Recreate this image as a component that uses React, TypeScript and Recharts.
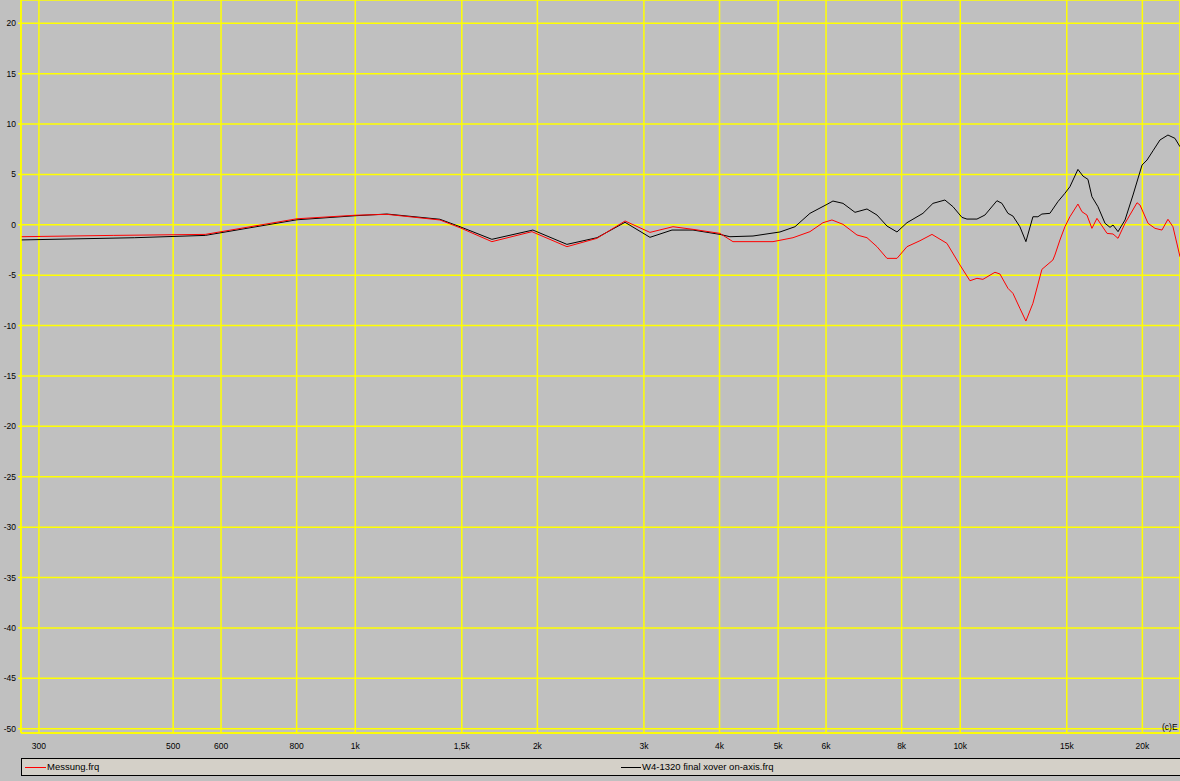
import React from "react";
import { LineChart, Line, XAxis, YAxis, CartesianGrid } from "recharts";

const xTicks = [300, 500, 600, 800, 1000, 1500, 2000, 3000, 4000, 5000, 6000, 8000, 10000, 15000, 20000];
const xTickLabels = ["300", "500", "600", "800", "1k", "1,5k", "2k", "3k", "4k", "5k", "6k", "8k", "10k", "15k", "20k"];
const yTicks = [20, 15, 10, 5, 0, -5, -10, -15, -20, -25, -30, -35, -40, -45, -50];

const messungFreq = [280.2, 398, 565, 801, 999, 1128, 1380, 1490, 1682, 1959, 2238, 2509, 2792, 3070, 3351, 3616, 4007, 4210, 4903, 5291, 5644, 5930, 6137, 6400, 6750, 7012, 7284, 7566, 7860, 8165, 8578, 8980, 9505, 9989, 10376, 10656, 10902, 11411, 11630, 11990, 12220, 12549, 12839, 13186, 13645, 14228, 14337, 14613, 14894, 15180, 15650, 15891, 16196, 16507, 16825, 17483, 17886, 18230, 18722, 19597, 19822, 20435, 20986, 21549, 22045, 22469, 23080];
const messungDb = [-1.18, -1.05, -0.95, 0.6, 0.95, 1.04, 0.48, -0.29, -1.67, -0.68, -2.17, -1.34, 0.38, -0.75, -0.19, -0.45, -0.85, -1.67, -1.67, -1.28, -0.68, 0.21, 0.48, 0.05, -1.01, -1.28, -2.17, -3.33, -3.33, -2.17, -1.58, -0.95, -1.84, -3.99, -5.55, -5.31, -5.41, -4.71, -4.88, -6.3, -6.8, -8.29, -9.55, -7.79, -4.42, -3.49, -3.0, -1.51, -0.19, 0.8, 2.06, 1.3, 0.97, -0.35, 0.64, -0.85, -0.91, -1.34, 0.15, 2.19, 1.96, 0.15, -0.35, -0.52, 0.55, -0.19, -3.17];

const w4Freq = [280.2, 432, 565, 801, 999, 1128, 1380, 1490, 1682, 1966, 2238, 2509, 2792, 3070, 3338, 3616, 4007, 4162, 4544, 5035, 5331, 5644, 6021, 6160, 6400, 6699, 7012, 7284, 7566, 7860, 8165, 8677, 9014, 9433, 9727, 10065, 10258, 10656, 10985, 11498, 11719, 11990, 12220, 12549, 12839, 13186, 13439, 13645, 14067, 14502, 14894, 15180, 15650, 15951, 16258, 16507, 16889, 17351, 17683, 17886, 18230, 18722, 19301, 19974, 20358, 20827, 21386, 22045, 22641, 23080];
const w4Db = [-1.5, -1.28, -1.05, 0.5, 0.9, 1.07, 0.55, -0.19, -1.44, -0.52, -1.94, -1.28, 0.25, -1.24, -0.52, -0.52, -0.95, -1.18, -1.11, -0.71, -0.19, 1.14, 2.03, 2.36, 2.13, 1.24, 1.57, 0.97, -0.12, -0.71, 0.21, 1.14, 2.13, 2.46, 1.8, 0.74, 0.57, 0.57, 0.97, 2.39, 2.13, 1.14, 0.87, -0.19, -1.67, 0.8, 0.8, 1.07, 1.14, 2.3, 3.13, 3.78, 5.5, 4.84, 4.51, 2.79, 1.8, 0.15, -0.25, -0.02, -0.68, 0.48, 2.96, 5.93, 6.43, 7.35, 8.42, 8.91, 8.58, 7.75];

const messungData = messungFreq.map((f, i) => ({ f, db: messungDb[i] }));
const w4Data = w4Freq.map((f, i) => ({ f, db: w4Db[i] }));

const FONT = '"Liberation Sans", Arial, sans-serif';

const XTick = (props: any) => {
  const { x, payload } = props;
  const idx = xTicks.indexOf(payload.value);
  return (
    <text x={x} y={749} textAnchor="middle" fontSize={8.5} fontFamily={FONT} fill="#000">
      {idx >= 0 ? xTickLabels[idx] : ""}
    </text>
  );
};

const YTick = (props: any) => {
  const { y, payload } = props;
  return (
    <text x={16} y={y + 3} textAnchor="end" fontSize={8.5} fontFamily={FONT} fill="#000">
      {payload.value}
    </text>
  );
};

export default function App() {
  return (
    <div style={{ position: "fixed", left: 0, top: 0, width: 1180, height: 781, background: "#c0c0c0", overflow: "hidden" }}>
      <LineChart width={1180} height={781} margin={{ top: 0, right: 0, left: 0, bottom: 0 }}>
        <CartesianGrid stroke="#ffff00" strokeWidth={1.5} fill="#c0c0c0" />
        <XAxis
          dataKey="f"
          type="number"
          scale="log"
          domain={[280.2, 23080]}
          allowDataOverflow
          ticks={xTicks}
          height={48}
          axisLine={{ stroke: "#ffff00", strokeWidth: 1.5 }}
          tickLine={false}
          tick={<XTick />}
          interval={0}
        />
        <YAxis
          type="number"
          domain={[-50.43, 22.31]}
          allowDataOverflow
          ticks={yTicks}
          width={21}
          axisLine={{ stroke: "#ffff00", strokeWidth: 1.5 }}
          tickLine={{ stroke: "#ffff00", strokeWidth: 1.5 }}
          tickSize={3}
          tick={<YTick />}
          interval={0}
        />
        <Line data={w4Data} dataKey="db" type="linear" stroke="#000000" strokeWidth={1} dot={false} isAnimationActive={false} />
        <Line data={messungData} dataKey="db" type="linear" stroke="#ff0000" strokeWidth={1} dot={false} isAnimationActive={false} />
      </LineChart>
      <div style={{ position: "absolute", left: 1162, top: 722, fontFamily: FONT, fontSize: 8.5, color: "#000", whiteSpace: "nowrap" }}>(c)E</div>
      <div style={{ position: "absolute", left: 21, top: 758, width: 1170, height: 18, background: "#d4d0c8", border: "1px solid #000", boxSizing: "border-box" }}>
        <div style={{ position: "absolute", left: 3, top: 8, width: 21, height: 1, background: "#ff0000" }} />
        <div style={{ position: "absolute", left: 25, top: 2, fontFamily: FONT, fontSize: 9.5, lineHeight: "11px", color: "#000", whiteSpace: "nowrap" }}>Messung.frq</div>
        <div style={{ position: "absolute", left: 599, top: 8, width: 20, height: 1, background: "#000" }} />
        <div style={{ position: "absolute", left: 620, top: 2, fontFamily: FONT, fontSize: 9.5, lineHeight: "11px", color: "#000", whiteSpace: "nowrap" }}>W4-1320 final xover on-axis.frq</div>
      </div>
    </div>
  );
}
